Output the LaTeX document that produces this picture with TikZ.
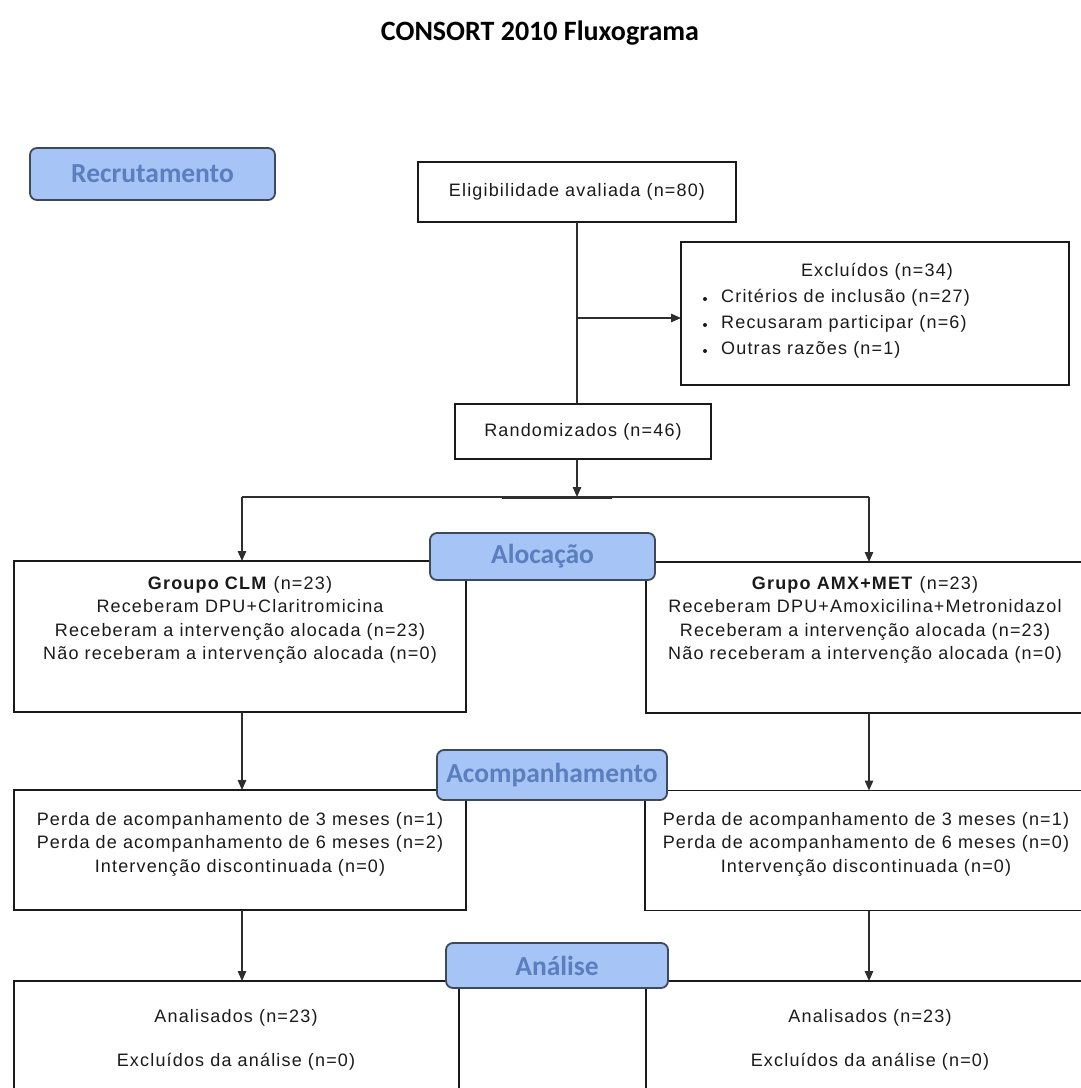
\documentclass[tikz,border=0pt]{standalone}
\usepackage{fontspec}
\setmainfont{Liberation Sans}[LetterSpace=6.5]
\newfontfamily\calib{Carlito}
\usetikzlibrary{arrows.meta}
\definecolor{lblfill}{HTML}{A6C4F5}
\definecolor{lbldraw}{HTML}{3E4A5A}
\definecolor{lbltext}{HTML}{5A7EBE}
\definecolor{ink}{HTML}{1A1A1A}
\definecolor{linec}{HTML}{2E2E2E}
\begin{document}
\begin{tikzpicture}[x=1pt,y=-1pt,
  box/.style={draw=ink, line width=1.4pt, inner sep=0pt, outer sep=0pt},
  phase/.style={draw=lbldraw, fill=lblfill, line width=1.8pt, rounded corners=7pt,
    inner sep=0pt, outer sep=0pt, text=lbltext, font=\calib\bfseries\fontsize{27.5}{27.5}\selectfont},
  txt/.style={text=ink, font=\fontsize{18}{23.5}\selectfont, align=center, inner sep=0pt},
  conn/.style={draw=linec, line width=1.4pt},
  arr/.style={conn, -{Triangle[length=10pt,width=8.5pt]}},
  dot/.style={circle, fill=ink, inner sep=0pt, minimum size=4pt},
]
\useasboundingbox (0,0) rectangle (1081,1088);
\clip (0,0) rectangle (1081,1088);

% title
\node[font=\calib\bfseries\fontsize{28}{28}\selectfont, text=black] (title) at (540,33) {CONSORT 2010 Fluxograma};

% boxes
\node[box, txt, minimum width=318pt, minimum height=60pt] (elig) at (577,192) {Eligibilidade avaliada (n=80)};
\node[box, minimum width=388pt, minimum height=143pt] (excl) at (875,313.5) {};
\node[box, txt, minimum width=256pt, minimum height=55pt] (rand) at (583,431.5) {Randomizados (n=46)};

\node[box, minimum width=452pt, minimum height=151pt] (allocL) at (240,636.5) {};
\node[box, minimum width=454pt, minimum height=151pt] (allocR) at (873,637.5) {};
\node[box, minimum width=452pt, minimum height=120pt] (fuL) at (240,850) {};
\node[box, minimum width=455pt, minimum height=120pt] (fuR) at (872.5,850.5) {};
\node[box, minimum width=445pt, minimum height=129pt] (anL) at (236.5,1045.5) {};
\node[box, minimum width=454pt, minimum height=129pt] (anR) at (873,1045.5) {};

% excluded text
\node[txt] (exhead) at (877,272) {Excluídos (n=34)};
\node[dot] (d1) at (705,299) {};
\node[dot] (d2) at (705,325) {};
\node[dot] (d3) at (705,351) {};
\node[txt, anchor=west] (ex1) at (721,298) {Critérios de inclusão (n=27)};
\node[txt, anchor=west] (ex2) at (721,324) {Recusaram participar (n=6)};
\node[txt, anchor=west] (ex3) at (721,350) {Outras razões (n=1)};

% allocation text
\node[txt] (alLt) at (240,620) {\textbf{Groupo CLM} (n=23)\\Receberam DPU+Claritromicina\\Receberam a intervenção alocada (n=23)\\Não receberam a intervenção alocada (n=0)};
\node[txt] (alRt) at (865,620) {\textbf{Grupo AMX+MET} (n=23)\\Receberam DPU+Amoxicilina+Metronidazol\\Receberam a intervenção alocada (n=23)\\Não receberam a intervenção alocada (n=0)};

% follow-up text
\node[txt] (fuLt) at (240,844) {Perda de acompanhamento de 3 meses (n=1)\\Perda de acompanhamento de 6 meses (n=2)\\Intervenção discontinuada (n=0)};
\node[txt] (fuRt) at (866,844) {Perda de acompanhamento de 3 meses (n=1)\\Perda de acompanhamento de 6 meses (n=0)\\Intervenção discontinuada (n=0)};

% analysis text
\node[txt] (anL1) at (236,1018) {Analisados (n=23)};
\node[txt] (anL2) at (236,1062) {Excluídos da análise (n=0)};
\node[txt] (anR1) at (870,1018) {Analisados (n=23)};
\node[txt] (anR2) at (870,1062) {Excluídos da análise (n=0)};

% connectors
\coordinate (exbr) at (577,318);
\coordinate (bl) at (242,497);
\coordinate (br) at (869,497);
\coordinate (tk1) at (502,497);
\coordinate (tk2) at (612,497);
\draw[conn] (elig.south) -- (elig.south |- rand.north);
\draw[arr] (exbr) -- (exbr -| excl.west);
\draw[arr] (rand.south -| elig.south) -- (elig.south |- bl);
\draw[conn] (bl) -- (br);
\draw[draw=linec, line width=3pt] (tk1) -- (tk2);
\draw[arr] (bl) -- (bl |- allocL.north);
\draw[arr] (br) -- (br |- allocR.north);
\draw[arr] (allocL.south -| bl) -- (fuL.north -| bl);
\draw[arr] (allocR.south -| br) -- (fuR.north -| br);
\draw[arr] (fuL.south -| bl) -- (anL.north -| bl);
\draw[arr] (fuR.south -| br) -- (anR.north -| br);

% phase labels
\node[phase, minimum width=245pt, minimum height=52pt] (recr) at (152.5,174) {Recrutamento};
\node[phase, minimum width=225pt, minimum height=47pt] (aloc) at (542.5,556.5) {Alocação};
\node[phase, minimum width=230pt, minimum height=50pt] (acomp) at (552,775) {Acompanhamento};
\node[phase, minimum width=222pt, minimum height=45pt] (anal) at (557,965.5) {Análise};
\end{tikzpicture}
\end{document}
